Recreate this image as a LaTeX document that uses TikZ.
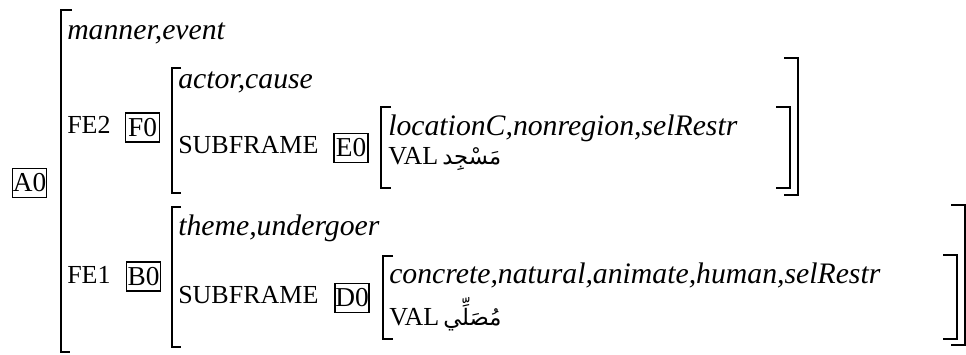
\documentclass[tikz,border=0pt]{standalone}
\usepackage{fontspec}
\setmainfont{Liberation Serif}
\newfontfamily\arabicfont[Script=Arabic]{DejaVu Sans}
\TeXXeTstate=1
\tikzset{
  lbl/.style={anchor=base west, inner sep=0pt, font=\fontsize{19.5}{22}\selectfont\upshape},
  itl/.style={anchor=base west, inner sep=0pt, font=\fontsize{22.3}{25}\selectfont\itshape},
  tagbox/.style={draw, line width=1.2pt, inner sep=0pt, minimum width=25.5pt, minimum height=21.5pt, font=\fontsize{20.5}{22}\selectfont},
  arab/.style={anchor=base west, inner sep=0pt, font=\fontsize{17}{20}\selectfont},
  brk/.style={line width=1.5pt}
}
\begin{document}
\begin{tikzpicture}[x=0.75pt,y=-0.75pt]
\useasboundingbox (0,0) rectangle (966,354);
% outer A
\node[tagbox] (a0) at (29.5,183) {A0};
\draw[brk] (72,10) -- (61,10) -- (61,352) -- (70,352);
\node[itl] (me) at (67,39) {manner,event};
\node[lbl] (fe2) at (67,133) {FE2};
\node[tagbox] (f0) at (142.5,127.5) {F0};
% F frame
\draw[brk] (181,68) -- (172,68) -- (172,193) -- (181,193);
\draw[brk] (784,58) -- (798,58) -- (798,195) -- (784,195);
\node[itl] (ac) at (178,88) {actor,cause};
\node[lbl] (sf1) at (178,153) {SUBFRAME};
\node[tagbox] (e0) at (351,148) {E0};
% E frame
\draw[brk] (391,107) -- (381,107) -- (381,188) -- (391,188);
\draw[brk] (776,107) -- (790,107) -- (790,188) -- (776,188);
\node[itl] (loc) at (388,135) {locationC,nonregion,selRestr};
\node[lbl] (val1) at (388,164) {VAL};
\node[arab] (ar1) at (442,164) {\arabicfont\beginR مَسْجِد\endR};
% B frame
\node[lbl] (fe1) at (67,283) {FE1};
\node[tagbox] (b0) at (143.5,276.5) {B0};
\draw[brk] (181,207) -- (172,207) -- (172,347) -- (181,347);
\draw[brk] (951,205) -- (965,205) -- (965,345) -- (951,345);
\node[itl] (th) at (178,235) {theme,undergoer};
\node[lbl] (sf2) at (178,303) {SUBFRAME};
\node[tagbox] (d0) at (352,298) {D0};
% D frame
\draw[brk] (393,256) -- (383,256) -- (383,339) -- (393,339);
\draw[brk] (943,255) -- (957,255) -- (957,339) -- (943,339);
\node[itl] (con) at (389,283) {concrete,natural,animate,human,selRestr};
\node[lbl] (val2) at (389,325) {VAL};
\node[arab] (ar2) at (443,325) {\arabicfont\beginR مُصَلِّي\endR};
\end{tikzpicture}
\end{document}
